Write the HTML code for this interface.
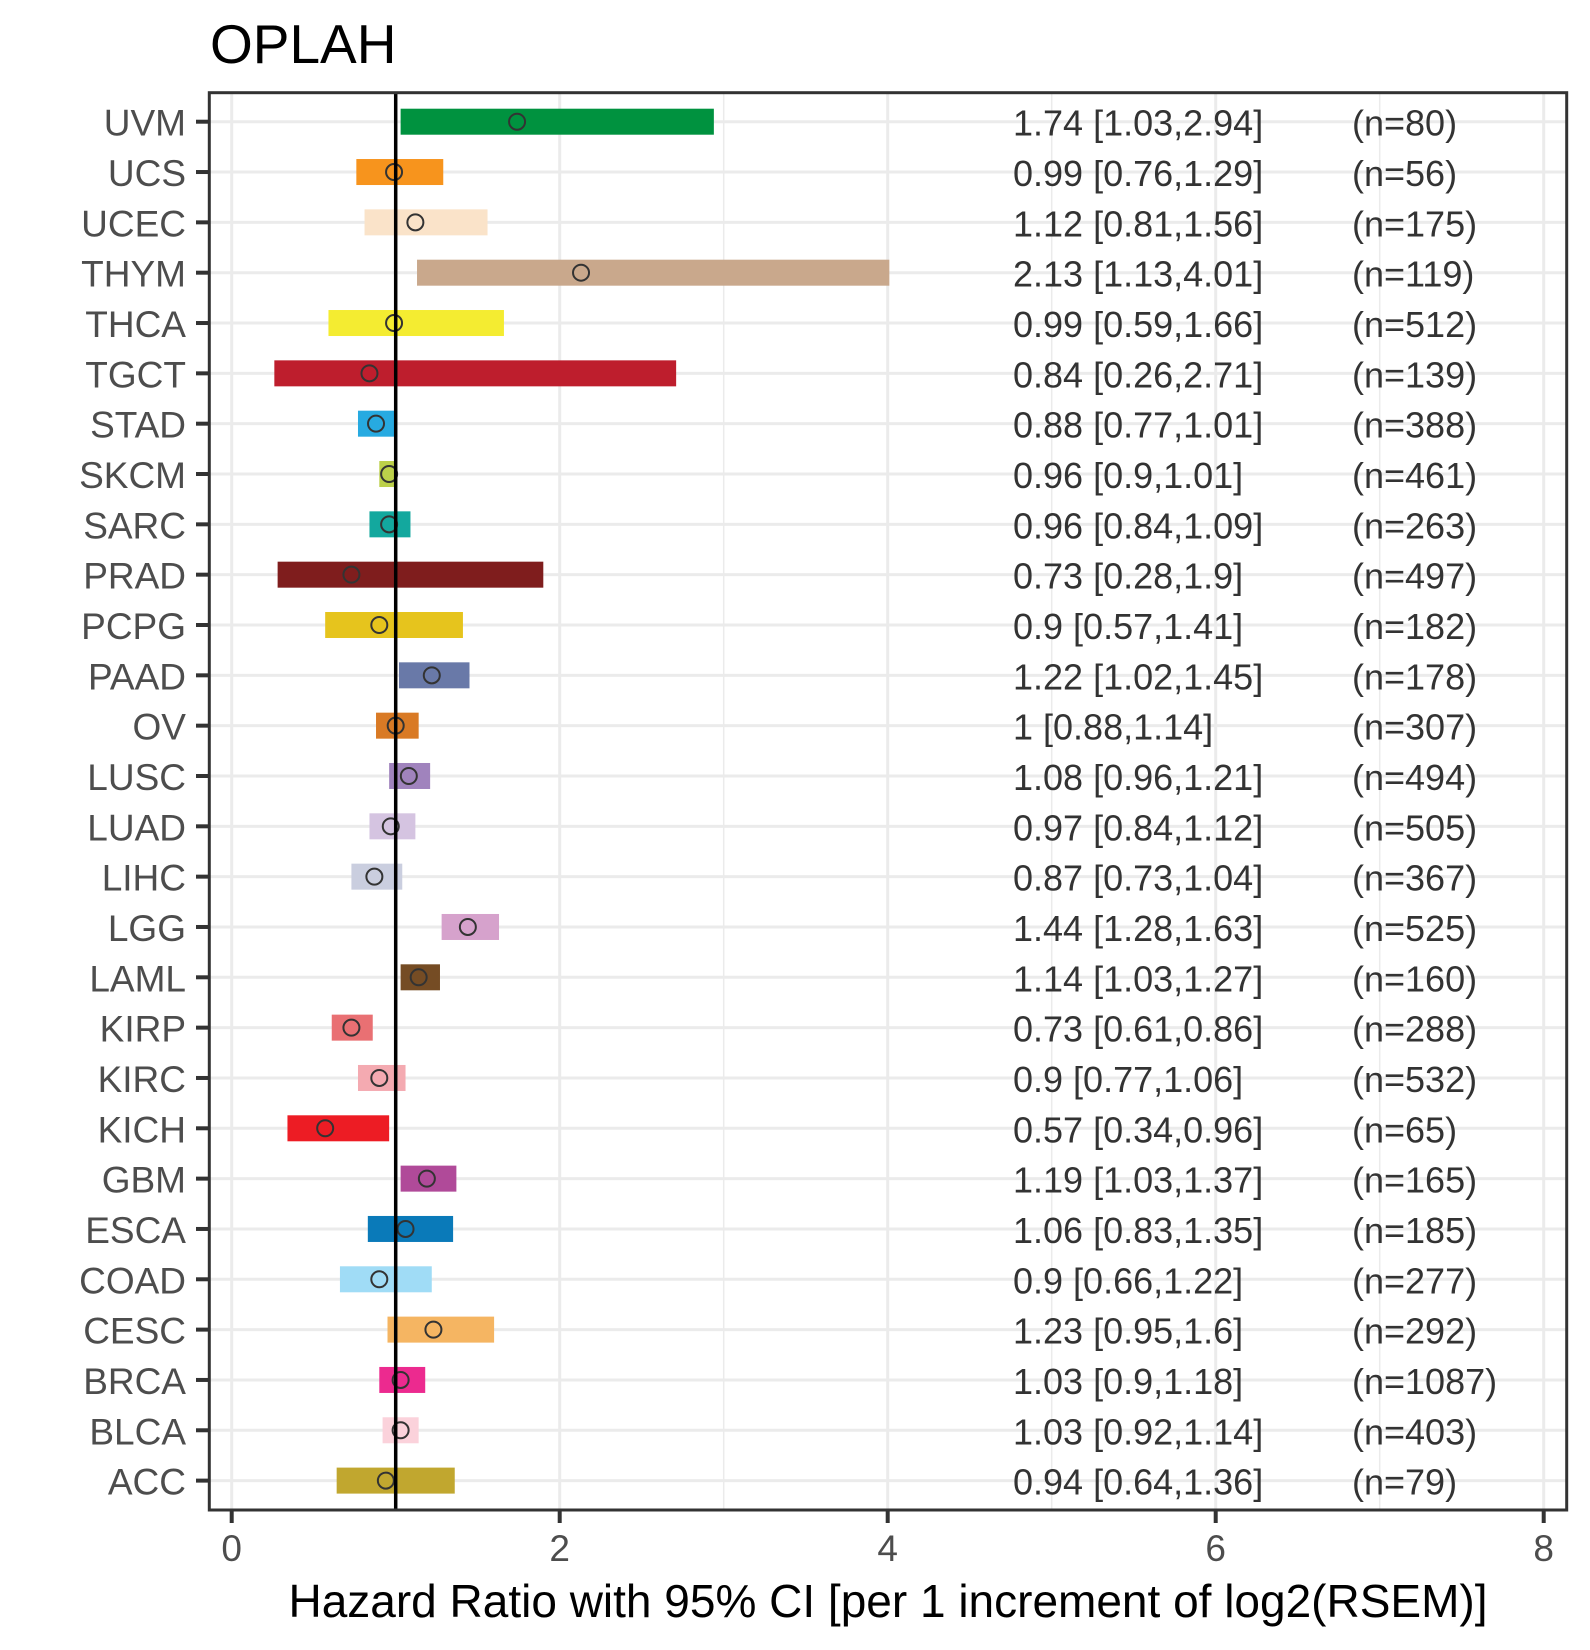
<!DOCTYPE html>
<html><head><meta charset="utf-8"><style>
html,body{margin:0;padding:0;background:#fff}
svg{display:block;font-family:"Liberation Sans",Arial,sans-serif}
</style></head><body>
<svg id="chart" width="1590" height="1650" viewBox="0 0 1590 1650" xmlns="http://www.w3.org/2000/svg">
<text x="210" y="63" font-size="55" fill="#000">OPLAH</text>
<rect x="209.3" y="92.7" width="1357.4" height="1417.3" fill="#fff"/>
<g id="grid"></g><g id="bars"></g><g id="ticks"></g>
<rect x="209.3" y="92.7" width="1357.4" height="1417.3" fill="none" stroke="#333" stroke-width="3"/>
<text x="888" y="1617" font-size="46" fill="#000" text-anchor="middle">Hazard Ratio with 95% CI [per 1 increment of log2(RSEM)]</text>
</svg>
<script>
const cancers=["UVM","UCS","UCEC","THYM","THCA","TGCT","STAD","SKCM","SARC","PRAD","PCPG","PAAD","OV","LUSC","LUAD","LIHC","LGG","LAML","KIRP","KIRC","KICH","GBM","ESCA","COAD","CESC","BRCA","BLCA","ACC"];
const hr=[1.74,0.99,1.12,2.13,0.99,0.84,0.88,0.96,0.96,0.73,0.9,1.22,1,1.08,0.97,0.87,1.44,1.14,0.73,0.9,0.57,1.19,1.06,0.9,1.23,1.03,1.03,0.94];
const lo=[1.03,0.76,0.81,1.13,0.59,0.26,0.77,0.9,0.84,0.28,0.57,1.02,0.88,0.96,0.84,0.73,1.28,1.03,0.61,0.77,0.34,1.03,0.83,0.66,0.95,0.9,0.92,0.64];
const hi=[2.94,1.29,1.56,4.01,1.66,2.71,1.01,1.01,1.09,1.9,1.41,1.45,1.14,1.21,1.12,1.04,1.63,1.27,0.86,1.06,0.96,1.37,1.35,1.22,1.6,1.18,1.14,1.36];
const hrText=["1.74 [1.03,2.94]","0.99 [0.76,1.29]","1.12 [0.81,1.56]","2.13 [1.13,4.01]","0.99 [0.59,1.66]","0.84 [0.26,2.71]","0.88 [0.77,1.01]","0.96 [0.9,1.01]","0.96 [0.84,1.09]","0.73 [0.28,1.9]","0.9 [0.57,1.41]","1.22 [1.02,1.45]","1 [0.88,1.14]","1.08 [0.96,1.21]","0.97 [0.84,1.12]","0.87 [0.73,1.04]","1.44 [1.28,1.63]","1.14 [1.03,1.27]","0.73 [0.61,0.86]","0.9 [0.77,1.06]","0.57 [0.34,0.96]","1.19 [1.03,1.37]","1.06 [0.83,1.35]","0.9 [0.66,1.22]","1.23 [0.95,1.6]","1.03 [0.9,1.18]","1.03 [0.92,1.14]","0.94 [0.64,1.36]"];
const nText=["(n=80)","(n=56)","(n=175)","(n=119)","(n=512)","(n=139)","(n=388)","(n=461)","(n=263)","(n=497)","(n=182)","(n=178)","(n=307)","(n=494)","(n=505)","(n=367)","(n=525)","(n=160)","(n=288)","(n=532)","(n=65)","(n=165)","(n=185)","(n=277)","(n=292)","(n=1087)","(n=403)","(n=79)"];
const colors=["#00923f","#f7941d","#fae3c9","#c9a88c","#f4ec31","#be1e2d","#27aae1","#bcd04a","#13a89e","#7f1d1d","#e6c41d","#6979a8","#d97a25","#a083bd","#d5c4e1","#cacedf","#d6a2cc","#754c24","#e97073","#f4aab1","#ed1c24","#b04a99","#0a7ab9","#a0dcf6","#f5b562","#ec2a8f","#fbd2db","#c1a72f"];
const xTicks=[0,2,4,6,8];
const xMinor=[1,3,5,7];
const NS="http://www.w3.org/2000/svg";
const X=v=>231.7+v*164;
const Y=i=>121.7+i*50.33;
function mk(tag,attrs,parent,txt){const e=document.createElementNS(NS,tag);for(const k in attrs)e.setAttribute(k,attrs[k]);if(txt!==undefined)e.textContent=txt;parent.appendChild(e);return e;}
const grid=document.getElementById('grid'),bars=document.getElementById('bars'),ticks=document.getElementById('ticks');
xMinor.forEach(v=>{const l=mk('line',{x1:X(v),x2:X(v),y1:92.7,y2:1510,stroke:'#ebebeb','stroke-width':1.5},grid);

});
xTicks.forEach(v=>{const l=mk('line',{x1:X(v),x2:X(v),y1:92.7,y2:1510,stroke:'#ebebeb','stroke-width':3},grid);


const t=mk('line',{x1:X(v),x2:X(v),y1:1510,y2:1523,stroke:'#333','stroke-width':4},ticks);


const tl=mk('text',{x:X(v),y:1561,'font-size':37,fill:'#4d4d4d','text-anchor':'middle'},ticks,String(v));

});
cancers.forEach((c,i)=>{const y=Y(i);
const g=mk('line',{x1:209.3,x2:1566.7,y1:y,y2:y,stroke:'#ebebeb','stroke-width':3},grid);


const b=mk('rect',{x:X(lo[i]),y:y-13,width:X(hi[i])-X(lo[i]),height:26,fill:colors[i]},bars);


const p=mk('circle',{cx:X(hr[i]),cy:y,r:8,fill:'none',stroke:'#333','stroke-width':2},bars);


const t1=mk('text',{x:1013,y:y+14,'font-size':36,fill:'#333'},bars,hrText[i]);


const t2=mk('text',{x:1352,y:y+14,'font-size':36,fill:'#333'},bars,nText[i]);


const tk=mk('line',{x1:196,x2:209.3,y1:y,y2:y,stroke:'#333','stroke-width':4},ticks);


const yl=mk('text',{x:186,y:y+14,'font-size':37,fill:'#4d4d4d','text-anchor':'end'},ticks,c);

});
const ref=mk('line',{x1:X(1),x2:X(1),y1:92.7,y2:1510,stroke:'#000','stroke-width':3.5},bars);


</script>
</body></html>
